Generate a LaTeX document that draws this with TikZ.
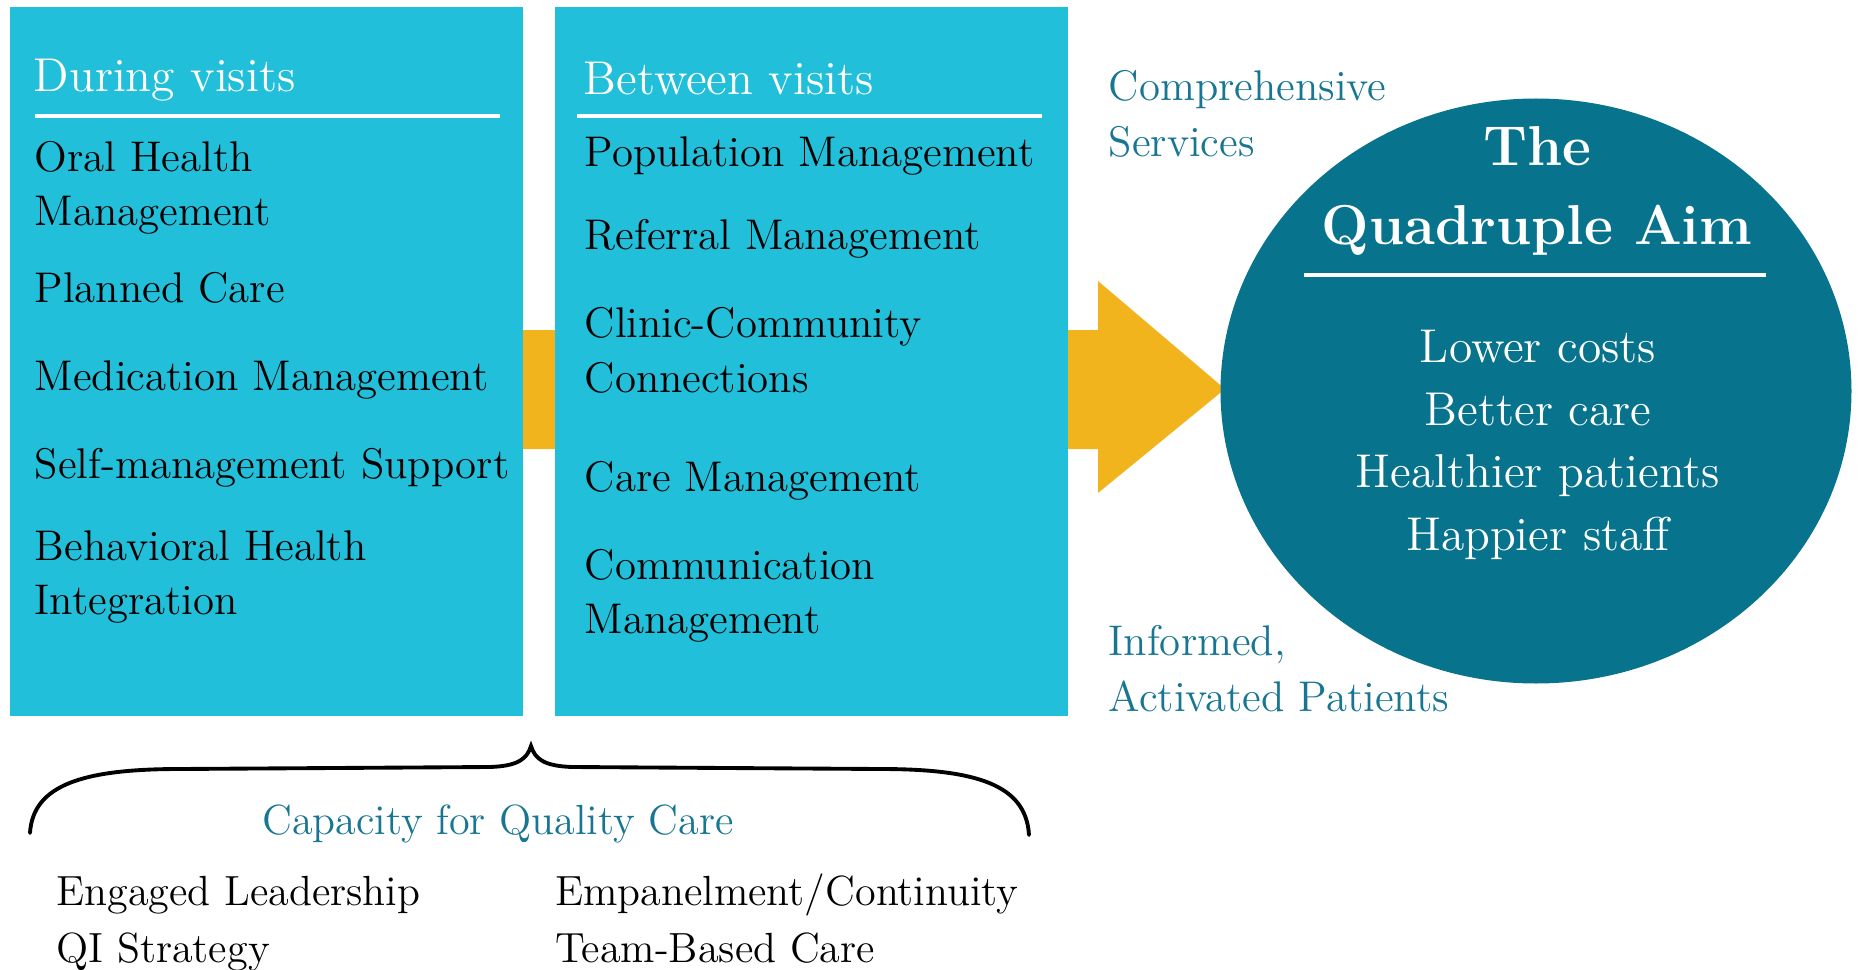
\documentclass[tikz,border=0pt]{standalone}
\usepackage{tikz}
\usetikzlibrary{shapes.geometric}

\definecolor{panelcyan}{RGB}{34,191,218}
\definecolor{arrowgold}{RGB}{242,180,28}
\definecolor{aimteal}{RGB}{7,115,141}
\definecolor{labelteal}{RGB}{24,118,146}

\begin{document}
\begin{tikzpicture}[
		panel/.style={rectangle, fill=panelcyan, minimum width=5.13cm, minimum height=7.09cm, inner sep=0pt},
		title/.style={anchor=base west, inner sep=0pt, text=white, font=\fontsize{13.5}{16}\selectfont},
		item/.style={anchor=base west, inner sep=0pt, align=left, font=\fontsize{12.2}{15.4}\selectfont},
		side/.style={anchor=base west, inner sep=0pt, align=left, text=labelteal, font=\fontsize{12.2}{15.8}\selectfont},
		rule/.style={white, line width=1.4pt},
		goal/.style={anchor=base, inner sep=0pt, text=white, font=\fontsize{13.5}{17}\selectfont}
		]
		
		\useasboundingbox (0,0) rectangle (18.58,9.69);
		
		% Yellow arrow behind the panels
		\fill[arrowgold] (5.0,6.39) -- (10.98,6.39) -- (10.98,6.88) -- (12.25,5.80) -- (10.98,4.76) -- (10.98,5.20) -- (5.0,5.20) -- cycle;
		
		% Panels
		\node[panel] (during) at (2.66,6.075) {};
		\node[panel] (between) at (8.11,6.075) {};
		
		% Panel titles
		\node[title] (duringtitle) at (0.33,8.77) {During visits};
		\node[title] (betweentitle) at (5.83,8.74) {Between visits};
		\draw[rule] (0.355,8.53) -- (5.0,8.53);
		\draw[rule] (5.77,8.53) -- (10.42,8.53);
		
		% During visits items (y = baseline of last line)
		\foreach \i/\y/\txt in {1/7.43/{Oral Health\\Management}, 2/6.67/{Planned Care}, 3/5.78/{Medication Management}, 4/4.91/{Self-management Support}, 5/3.545/{Behavioral Health\\Integration}}
		\node[item] (duringitem\i) at (0.34,\y) {\txt};
		
		% Between visits items
		\foreach \i/\y/\txt in {1/8.02/{Population Management}, 2/7.19/{Referral Management}, 3/5.77/{Clinic-Community\\Connections}, 4/4.78/{Care Management}, 5/3.355/{Communication\\Management}}
		\node[item] (betweenitem\i) at (5.84,\y) {\txt};
		
		% Side labels
		\node[side] (services) at (11.08,8.126) {Comprehensive\\Services};
		\node[side] (patients) at (11.08,2.58) {Informed,\\Activated Patients};
		
		% The aim
		\node[ellipse, fill=aimteal, minimum width=6.31cm, minimum height=5.85cm, inner sep=0pt] (aim) at (15.36,5.78) {};
		\node[anchor=base, inner sep=0pt, text=white, font=\fontsize{16}{18}\selectfont\bfseries] (aimthe) at (15.37,8.04) {The};
		\node[anchor=base, inner sep=0pt, text=white, font=\fontsize{16}{18}\selectfont\bfseries] (aimtitle) at (15.37,7.25) {Quadruple Aim};
		\draw[rule] (13.04,6.94) -- (17.66,6.94);
		
		\foreach \i/\y/\txt in {1/6.064/{Lower costs}, 2/5.436/{Better care}, 3/4.82/{Healthier patients}, 4/4.19/{Happier staff}}
		\node[goal] (goal\i) at (15.38,\y) {\txt};
		
		% Brace
		\draw[line width=1.1pt, line cap=round] (0.30,1.36) .. controls (0.33,1.85) and (0.85,2.0) .. (1.8,2.0) -- (4.9,2.02) .. controls (5.18,2.03) and (5.27,2.1) .. (5.31,2.23) .. controls (5.35,2.1) and (5.44,2.03) .. (5.72,2.02) -- (8.8,2.0) .. controls (9.75,2.0) and (10.26,1.85) .. (10.29,1.34);
		
		% Capacity
		\node[anchor=base, inner sep=0pt, text=labelteal, font=\fontsize{12}{15}\selectfont] (capacity) at (4.98,1.35) {Capacity for Quality Care};
		\node[item, font=\fontsize{12}{16.2}\selectfont] (leadership) at (0.557,0.07) {Engaged Leadership\\QI Strategy};
		\node[item, font=\fontsize{12}{16.2}\selectfont] (continuity) at (5.546,0.07) {Empanelment/Continuity\\Team-Based Care};
		
	\end{tikzpicture}
\end{document}
